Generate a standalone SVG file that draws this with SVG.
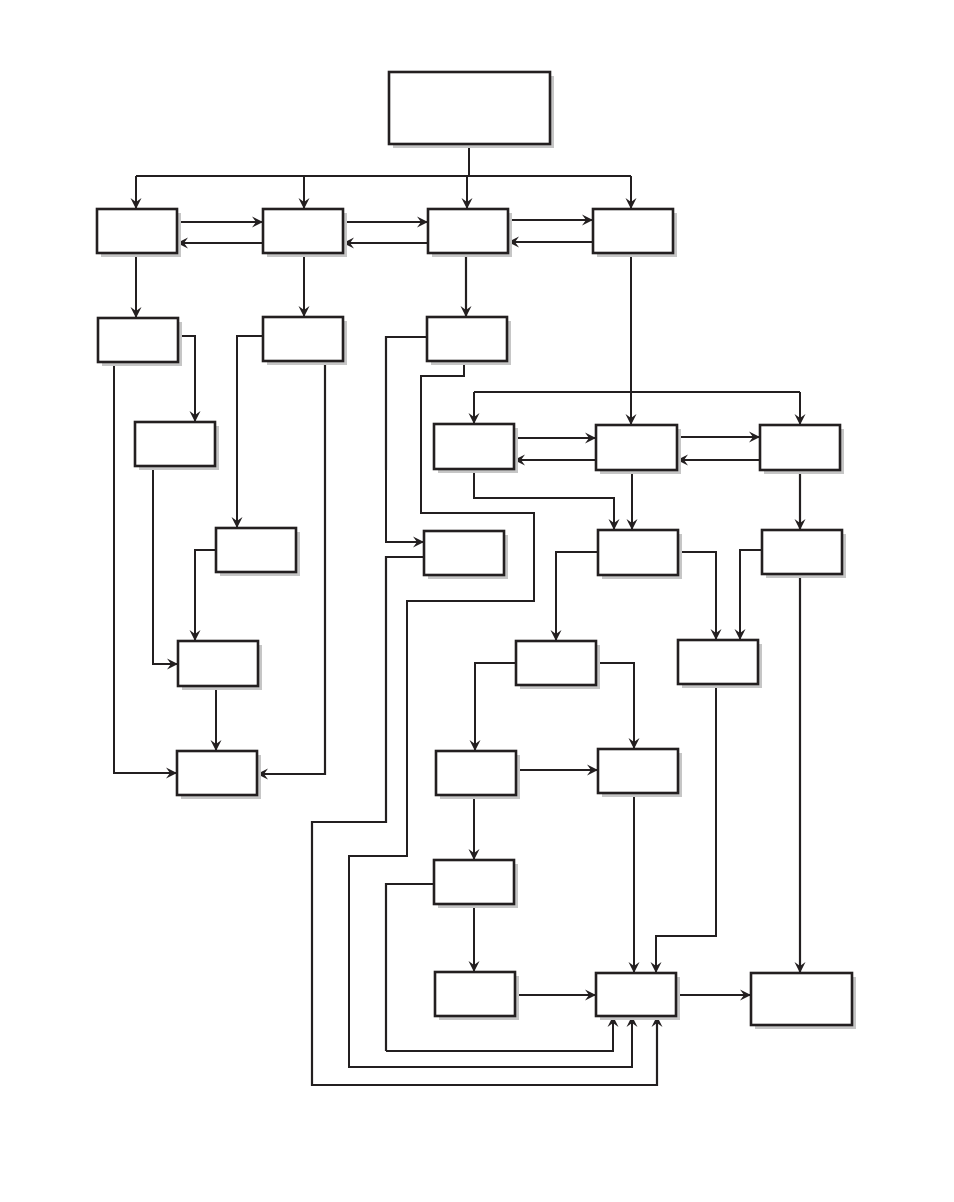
<svg xmlns="http://www.w3.org/2000/svg" width="954" height="1202" viewBox="0 0 954 1202">
<style>
.sh{fill:#c6c6c6;stroke:none}
.bx{fill:#fff;stroke:#231f20;stroke-width:2.6}
.c{fill:none;stroke:#231f20;stroke-linejoin:miter}
.t{stroke-width:1.2;shape-rendering:crispEdges}
.m{stroke-width:1.8;shape-rendering:crispEdges}
.k{stroke-width:2.2}
.a{marker-end:url(#ah)}
.ahp{fill:#231f20;shape-rendering:geometricPrecision}
</style>
<defs>
<marker id="ah" viewBox="-12 -7 13 14" refX="0" refY="0" markerWidth="13" markerHeight="14" markerUnits="userSpaceOnUse" orient="auto">
<path class="ahp" d="M0,0 L-11,-5.5 L-7,0 L-11,5.5 Z"/>
</marker>
</defs>
<rect width="954" height="1202" fill="#fff"/>
<g id="connectors">
<path class="c t" d="M469,145 V176 M136,176 H631"/>
<path class="c t a" d="M136,176 V209"/>
<path class="c t a" d="M304,176 V209"/>
<path class="c t a" d="M467,176 V209"/>
<path class="c t a" d="M631,176 V209"/>
<path class="c k a" d="M177,222 H263"/>
<path class="c t a" d="M263,243 H177"/>
<path class="c k a" d="M343,222 H428"/>
<path class="c k a" d="M428,243 H343"/>
<path class="c t a" d="M508,220 H593"/>
<path class="c t a" d="M593,242 H508"/>
<path class="c t a" d="M136,253 V318"/>
<path class="c t a" d="M304,253 V317"/>
<path class="c k a" d="M466,253 V317"/>
<path class="c t a" d="M631,253 V425"/>
<path class="c t a" d="M178,336 H195 V422"/>
<path class="c t a" d="M114,362 V773 H177"/>
<path class="c t a" d="M153,466 V664 H178"/>
<path class="c t a" d="M263,336 H237 V528"/>
<path class="c k a" d="M325,361 V774 H257"/>
<path class="c t a" d="M216,550 H195 V641"/>
<path class="c t a" d="M216,686 V751"/>
<path class="c k" d="M427,337 H386 V470"/>
<path class="c t a" d="M386,470 V542 H424"/>
<path class="c m a" d="M464,361 V376 H421 V513 H534 V601 H407 V856 H349 V1067 H632 V1016"/>
<path class="c k a" d="M424,557 H386 V822 H312 V1085 H657 V1016"/>
<path class="c m" d="M474,392 H800"/>
<path class="c m a" d="M474,392 V424"/>
<path class="c m a" d="M800,392 V425"/>
<path class="c k a" d="M514,438 H596"/>
<path class="c k a" d="M596,460 H514"/>
<path class="c t a" d="M677,437 H760"/>
<path class="c k a" d="M760,460 H677"/>
<path class="c t a" d="M474,469 V498 H614 V530"/>
<path class="c t a" d="M632,470 V530"/>
<path class="c k a" d="M800,470 V530"/>
<path class="c t a" d="M598,552 H556 V641"/>
<path class="c t a" d="M678,552 H716 V640"/>
<path class="c t a" d="M762,550 H740 V640"/>
<path class="c k a" d="M800,574 V973"/>
<path class="c t a" d="M516,663 H475 V751"/>
<path class="c t a" d="M596,663 H634 V749"/>
<path class="c t a" d="M716,684 V936 H656 V973"/>
<path class="c t a" d="M516,770 H598"/>
<path class="c t a" d="M474,795 V860"/>
<path class="c m a" d="M634,793 V973"/>
<path class="c t a" d="M474,904 V972"/>
<path class="c k" d="M434,884 H386 V1051"/>
<path class="c t a" d="M386,1051 H613 V1016"/>
<path class="c t a" d="M515,995 H596"/>
<path class="c t a" d="M676,995 H751"/>
</g>
<g id="n-top"><rect class="sh" x="393" y="76" width="161" height="72"/><rect class="bx" x="389" y="72" width="161" height="72"/></g>
<g id="n-a"><rect class="sh" x="101" y="213" width="80" height="44"/><rect class="bx" x="97" y="209" width="80" height="44"/></g>
<g id="n-b"><rect class="sh" x="267" y="213" width="80" height="44"/><rect class="bx" x="263" y="209" width="80" height="44"/></g>
<g id="n-c"><rect class="sh" x="432" y="213" width="80" height="44"/><rect class="bx" x="428" y="209" width="80" height="44"/></g>
<g id="n-d"><rect class="sh" x="597" y="213" width="80" height="44"/><rect class="bx" x="593" y="209" width="80" height="44"/></g>
<g id="n-e"><rect class="sh" x="102" y="322" width="80" height="44"/><rect class="bx" x="98" y="318" width="80" height="44"/></g>
<g id="n-f"><rect class="sh" x="267" y="321" width="80" height="44"/><rect class="bx" x="263" y="317" width="80" height="44"/></g>
<g id="n-g"><rect class="sh" x="431" y="321" width="80" height="44"/><rect class="bx" x="427" y="317" width="80" height="44"/></g>
<g id="n-h"><rect class="sh" x="139" y="426" width="80" height="44"/><rect class="bx" x="135" y="422" width="80" height="44"/></g>
<g id="n-i"><rect class="sh" x="220" y="532" width="80" height="44"/><rect class="bx" x="216" y="528" width="80" height="44"/></g>
<g id="n-k"><rect class="sh" x="182" y="645" width="80" height="45"/><rect class="bx" x="178" y="641" width="80" height="45"/></g>
<g id="n-l"><rect class="sh" x="181" y="755" width="80" height="44"/><rect class="bx" x="177" y="751" width="80" height="44"/></g>
<g id="n-m"><rect class="sh" x="438" y="428" width="80" height="45"/><rect class="bx" x="434" y="424" width="80" height="45"/></g>
<g id="n-n"><rect class="sh" x="600" y="429" width="81" height="45"/><rect class="bx" x="596" y="425" width="81" height="45"/></g>
<g id="n-o"><rect class="sh" x="764" y="429" width="80" height="45"/><rect class="bx" x="760" y="425" width="80" height="45"/></g>
<g id="n-p"><rect class="sh" x="428" y="535" width="80" height="44"/><rect class="bx" x="424" y="531" width="80" height="44"/></g>
<g id="n-q"><rect class="sh" x="602" y="534" width="80" height="45"/><rect class="bx" x="598" y="530" width="80" height="45"/></g>
<g id="n-r"><rect class="sh" x="766" y="534" width="80" height="44"/><rect class="bx" x="762" y="530" width="80" height="44"/></g>
<g id="n-s"><rect class="sh" x="520" y="645" width="80" height="44"/><rect class="bx" x="516" y="641" width="80" height="44"/></g>
<g id="n-t"><rect class="sh" x="682" y="644" width="80" height="44"/><rect class="bx" x="678" y="640" width="80" height="44"/></g>
<g id="n-u1"><rect class="sh" x="440" y="755" width="80" height="44"/><rect class="bx" x="436" y="751" width="80" height="44"/></g>
<g id="n-u2"><rect class="sh" x="602" y="753" width="80" height="44"/><rect class="bx" x="598" y="749" width="80" height="44"/></g>
<g id="n-u3"><rect class="sh" x="438" y="864" width="80" height="44"/><rect class="bx" x="434" y="860" width="80" height="44"/></g>
<g id="n-u4"><rect class="sh" x="439" y="976" width="80" height="44"/><rect class="bx" x="435" y="972" width="80" height="44"/></g>
<g id="n-w"><rect class="sh" x="600" y="977" width="80" height="43"/><rect class="bx" x="596" y="973" width="80" height="43"/></g>
<g id="n-v"><rect class="sh" x="755" y="977" width="101" height="52"/><rect class="bx" x="751" y="973" width="101" height="52"/></g>
</svg>
